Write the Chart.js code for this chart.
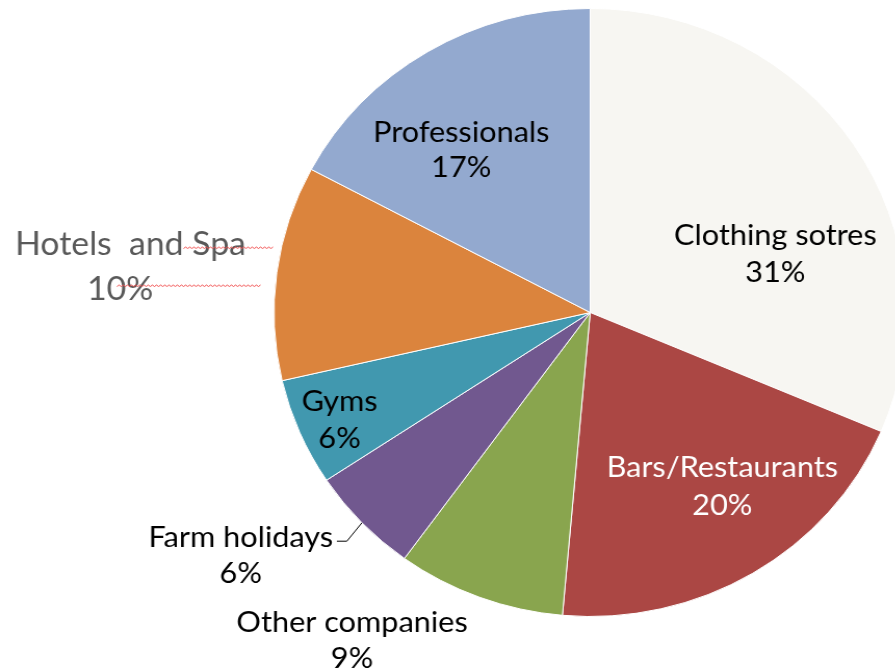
<!DOCTYPE html>
<html lang="en">
<head>
    <meta charset="UTF-8">
    <title>Customers by sector</title>
    <script src="https://cdn.jsdelivr.net/npm/chart.js@4.4.0/dist/chart.umd.min.js"></script>
    <style>
        html, body { margin: 0; padding: 0; background: #fff; overflow: hidden; }
        /* the source picture is a little wider than tall, so stretch the whole drawing */
        #wrap { width: 880px; height: 672px; transform: scaleX(1.04); transform-origin: 0 0; }
    </style>
</head>
<body>
    <div id="wrap">
        <canvas id="pieArea" width="880" height="672"></canvas>
    </div>

    <script>
        // data (share of the circle, clockwise from 12 o'clock)
        var sectors = ['Clothing sotres', 'Bars/Restaurants', 'Other companies', 'Farm holidays', 'Gyms', 'Hotels  and Spa', 'Professionals'];
        var shares = [31.4, 20.0, 8.6, 5.7, 5.7, 11.4, 17.2];
        var pctLabels = ['31%', '20%', '9%', '6%', '6%', '10%', '17%'];
        var colors = ['#F7F6F2', '#AB4744', '#89A54E', '#71588F', '#4198AF', '#DB843D', '#93A9CF'];

        // where each data label sits, relative to the pie centre: [dx line1, dx line2, baseline1, baseline2]
        var labelPos = [
            [178, 178, -68, -31],
            [127, 127, 164, 202],
            [-229, -229, 319, 355],
            [-336, -336, 234, 270],
            [-241, -241, 98, 135],
            [-442, -452, -58, -13],
            [-124, -124, -171, -136]
        ];
        var labelColor = ['#000', '#fff', '#000', '#000', '#000', '#595959', '#000'];
        var labelSize = [29.5, 29.5, 29.5, 29.5, 29.5, 32.5, 29.5];

        function squiggle(ctx, x1, x2, y) {
            ctx.beginPath();
            var up = true;
            ctx.moveTo(x1, y);
            for (var x = x1 + 2; x <= x2; x += 2) {
                ctx.lineTo(x, up ? y - 1.5 : y);
                up = !up;
            }
            ctx.stroke();
        }

        const pieLabels = {
            id: 'pieLabels',
            afterDraw(chart) {
                const ctx = chart.ctx;
                const arc = chart.getDatasetMeta(0).data[0];
                const cx = arc.x, cy = arc.y;
                ctx.save();
                ctx.textAlign = 'center';
                ctx.textBaseline = 'alphabetic';
                sectors.forEach(function (name, i) {
                    const p = labelPos[i];
                    ctx.fillStyle = labelColor[i];
                    ctx.font = labelSize[i] + 'px Lato';
                    ctx.fillText(name, cx + p[0], cy + p[2]);
                    ctx.fillText(pctLabels[i], cx + p[1], cy + p[3]);
                });

                // leader line for Farm holidays
                ctx.strokeStyle = '#000';
                ctx.lineWidth = 1;
                ctx.beginPath();
                ctx.moveTo(cx - 243.6, cy + 228.7);
                ctx.lineTo(cx - 234, cy + 228.7);
                ctx.lineTo(cx - 219.5, cy + 210.3);
                ctx.stroke();

                // spell-check underlines on the hotels text box
                ctx.strokeStyle = '#F05050';
                ctx.lineWidth = 1;
                squiggle(ctx, cx - 391, cx - 305, cy - 64);
                squiggle(ctx, cx - 455, cx - 317, cy - 26);
                ctx.restore();
            }
        };

        const data = {
            labels: sectors,
            datasets: [{
                data: shares,
                backgroundColor: colors,
                borderColor: '#ffffff',
                borderWidth: 1
            }]
        };

        const config = {
            type: 'pie',
            data,
            options: {
                responsive: false,
                devicePixelRatio: 1,
                animation: false,
                layout: { padding: { left: 263, right: 8, top: 8, bottom: 55 } },
                plugins: {
                    legend: { display: false },
                    tooltip: { enabled: false }
                }
            },
            plugins: [pieLabels]
        };

        var myChart = new Chart(document.getElementById('pieArea'), config);
    </script>
</body>
</html>
